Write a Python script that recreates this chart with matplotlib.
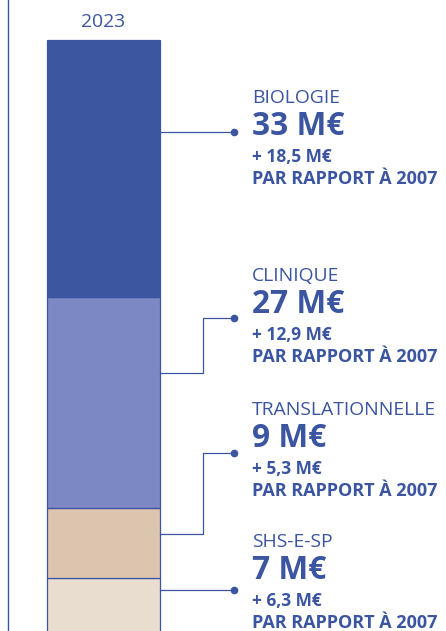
import matplotlib
matplotlib.use("Agg")
import matplotlib.pyplot as plt
from matplotlib.lines import Line2D

# ---- data ----
year = "2023"
categories = ["BIOLOGIE", "CLINIQUE", "TRANSLATIONNELLE", "SHS-E-SP"]
values = [33, 27, 9, 7]
value_labels = ["33 M€", "27 M€", "9 M€", "7 M€"]
delta_labels = ["+ 18,5 M€", "+ 12,9 M€", "+ 5,3 M€", "+ 6,3 M€"]
compare_label = "PAR RAPPORT À 2007"

# ---- style / layout ----
colors = ["#3c56a0", "#7b88c4", "#dcc5ae", "#e9ddd0"]
blue = "#3b55a0"
W, H = 446, 631
FONT = "Open Sans"

fig = plt.figure(figsize=(W / 100, H / 100), dpi=100)
ax = fig.add_axes([0, 0, 1, 1])
total = sum(values)
ppu = 7.8  # pixels per unit
ax.set_xlim(0, W)
ax.set_ylim((633 - H) / ppu, total + 40 / ppu)
ax.axis("off")

bottom = 0
for cat, v, c in reversed(list(zip(categories, values, colors))):
    ax.bar(103.5, v, width=113, bottom=bottom, color=c, edgecolor=blue,
           linewidth=0.9, zorder=2)
    bottom += v

renderer = fig.canvas.get_renderer()

def P(x, y):
    return (x / W, 1 - y / H)

def fline(xs, ys, **kw):
    pts = [P(x, y) for x, y in zip(xs, ys)]
    fig.add_artist(Line2D([p[0] for p in pts], [p[1] for p in pts],
                          transform=fig.transFigure, color=blue, **kw))

def fit_size(s, target_w, weight, base=12):
    t = fig.text(0, 0, s, fontsize=base, family=FONT, fontweight=weight)
    w = t.get_window_extent(renderer).width
    t.remove()
    return base * target_w / w

fline([7.5, 7.5], [0, H], linewidth=1.0)

fs_year = fit_size(year, 44, "normal")
fig.text(*P(103.5, 27), year, ha="center", va="baseline", fontsize=fs_year,
         color=blue, family=FONT)

start_y = [132, 373, 534, 590]
end_y = [132, 318, 453, 590]
elbow_x = 203
dot_x = 234
for sy, ey in zip(start_y, end_y):
    if sy == ey:
        fline([160, dot_x], [sy, ey], linewidth=0.9)
    else:
        fline([160, elbow_x, elbow_x, dot_x], [sy, sy, ey, ey], linewidth=0.9)
    fig.add_artist(Line2D([P(dot_x, ey)[0]], [P(dot_x, ey)[1]],
                          transform=fig.transFigure, marker="o",
                          markersize=4.5, color=blue, linestyle="none"))

fs_name = fit_size("TRANSLATIONNELLE", 184, "normal")
fs_val = fit_size("33 M€", 92, "bold")
fs_delta = fit_size("+ 18,5 M€", 80, "bold")
fs_cmp = fit_size(compare_label, 185, "bold")

name_base = [103, 281, 415, 547]
text_x = 252
for nb, cat, vl, dl in zip(name_base, categories, value_labels, delta_labels):
    fig.text(*P(text_x, nb), cat, ha="left", va="baseline", fontsize=fs_name,
             color=blue, family=FONT)
    fig.text(*P(text_x, nb + 32), vl, ha="left", va="baseline", fontsize=fs_val,
             color=blue, family=FONT, fontweight="bold")
    fig.text(*P(text_x, nb + 59), dl, ha="left", va="baseline", fontsize=fs_delta,
             color=blue, family=FONT, fontweight="bold")
    fig.text(*P(text_x, nb + 81.5), compare_label, ha="left", va="baseline",
             fontsize=fs_cmp, color=blue, family=FONT, fontweight="bold")

fig.savefig("out.png", dpi=100)
